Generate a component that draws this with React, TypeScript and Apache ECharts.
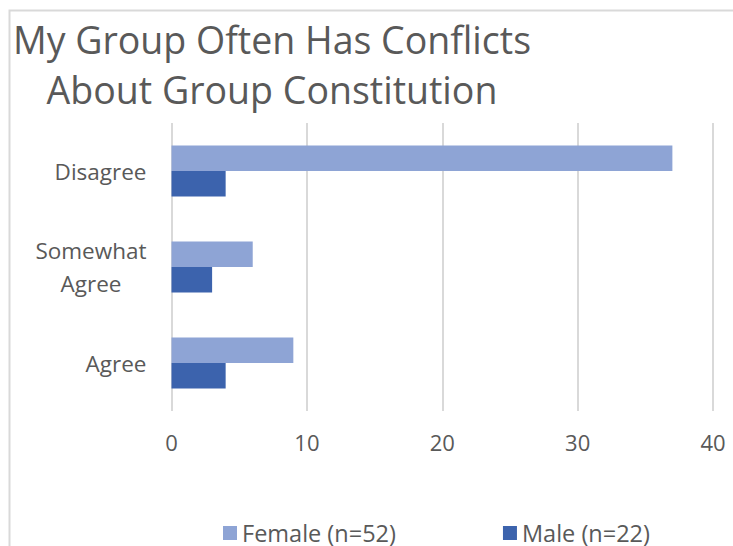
import React, { useEffect, useRef } from "react";
import * as echarts from "echarts";

const titleLines = ["My Group Often Has Conflicts", "About Group Constitution"];
const categories = ["Agree", "Somewhat\nAgree", "Disagree"];
const seriesNames = ["Female (n=52)", "Male (n=22)"];
const femaleValues = [9, 6, 37];
const maleValues = [4, 3, 4];
const xTicks = { min: 0, max: 40, interval: 10 };

const FONT = "'Open Sans', sans-serif";
const TEXT = "#595959";
const GRID = "#d9d9d9";
const FEMALE = "#8EA4D5";
const MALE = "#3C63AD";

export default function App() {
  const ref = useRef<HTMLDivElement>(null);
  useEffect(() => {
    if (!ref.current) return;
    const chart = echarts.init(ref.current, null, { renderer: "svg" });
    chart.setOption({
      animation: false,
      textStyle: { fontFamily: FONT },
      title: {
        text: titleLines.join("\n"),
        left: 272,
        top: 14,
        padding: 0,
        textAlign: "center",
        textStyle: {
          fontFamily: FONT,
          fontSize: 37.5,
          fontWeight: "normal",
          color: TEXT,
          lineHeight: 50,
        },
      },
      graphic: [
        {
          type: "rect",
          shape: { x: 9.5, y: 10.5, width: 900, height: 700 },
          style: { fill: "none", stroke: GRID, lineWidth: 2 },
          silent: true,
          z: -10,
        },
      ],
      legend: {
        data: seriesNames,
        left: 223,
        top: 521,
        padding: 0,
        itemWidth: 14,
        itemHeight: 14,
        itemGap: 107,
        icon: "rect",
        textStyle: { fontFamily: FONT, fontSize: 23.5, color: TEXT, lineHeight: 22 },
      },
      grid: { left: 171.5, right: 20, top: 123, bottom: 135 },
      xAxis: {
        type: "value",
        min: xTicks.min,
        max: xTicks.max,
        interval: xTicks.interval,
        axisLine: { show: false },
        axisTick: { show: false },
        axisLabel: { fontFamily: FONT, fontSize: 22, color: TEXT, margin: 20 },
        splitLine: { show: true, lineStyle: { color: GRID, width: 2 } },
      },
      yAxis: {
        type: "category",
        data: categories,
        axisLine: { show: false },
        axisTick: { show: false },
        axisLabel: {
          fontFamily: FONT,
          fontSize: 22,
          color: TEXT,
          margin: 25,
          align: "right",
          formatter: (value: string) =>
            value
              .split("\n")
              .map((line) => `{c|${line}}`)
              .join("\n"),
          rich: {
            c: {
              fontFamily: FONT,
              fontSize: 22.5,
              color: TEXT,
              lineHeight: 33,
              align: "center",
            },
          },
        },
        splitLine: { show: false },
      },
      series: [
        {
          name: seriesNames[0],
          type: "bar",
          data: femaleValues,
          itemStyle: { color: FEMALE },
          barGap: "0%",
          barCategoryGap: "47%",
        },
        {
          name: seriesNames[1],
          type: "bar",
          data: maleValues,
          itemStyle: { color: MALE },
          barGap: "0%",
          barCategoryGap: "47%",
        },
      ],
    });
    return () => chart.dispose();
  }, []);
  return (
    <div
      ref={ref}
      style={{ position: "fixed", left: 0, top: 0, width: 733, height: 546, background: "#fff" }}
    />
  );
}
